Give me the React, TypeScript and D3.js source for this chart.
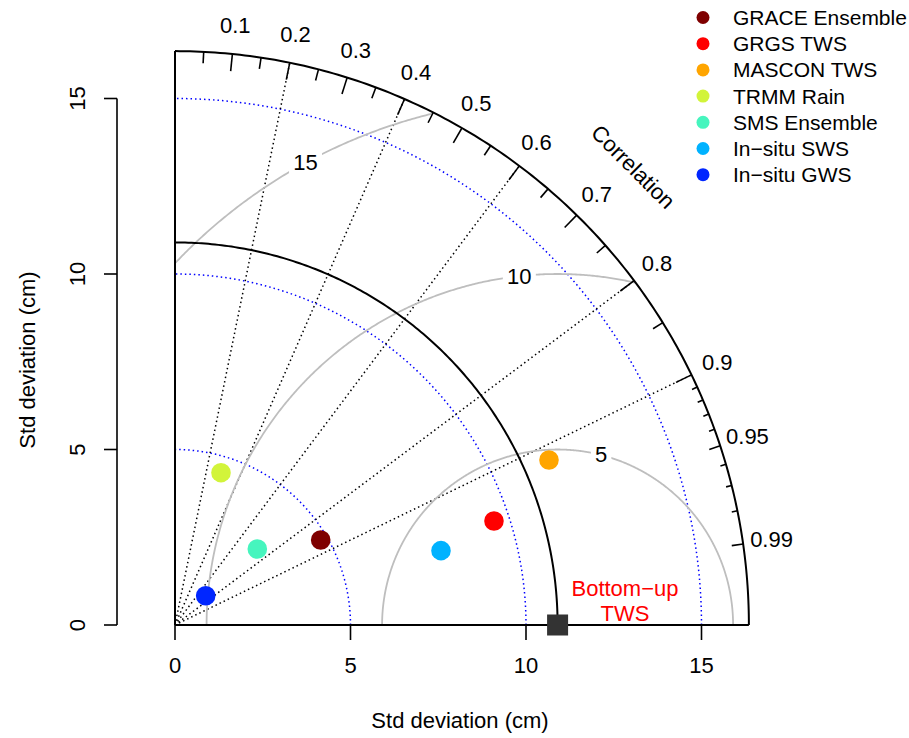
import React from "react";
import * as d3 from "d3";

const models = ["GRACE Ensemble", "GRGS TWS", "MASCON TWS", "TRMM Rain", "SMS Ensemble", "In\u2212situ SWS", "In\u2212situ GWS"];
const colors = ["#7F0000", "#FF0000", "#FFA500", "#D2F43A", "#46F5BE", "#00B2FF", "#0026FF"];
const sdValues = [4.806, 9.559, 11.646, 4.533, 3.192, 7.868, 1.209];
const corValues = [0.8637, 0.9507, 0.9149, 0.289, 0.7347, 0.9631, 0.7235];
const refSd = 10.9;
const refLabel = ["Bottom\u2212up", "TWS"];
const maxSd = 16.35;
const sdTicks = [0, 5, 10, 15];
const sdGrid = [5, 10, 15];
const rmsLevels = [5, 10, 15];
const corLabels = [0.1, 0.2, 0.3, 0.4, 0.5, 0.6, 0.7, 0.8, 0.9, 0.95, 0.99];
const corLines = [0.2, 0.4, 0.6, 0.8, 0.9];
const bigTicks = [0.1, 0.2, 0.3, 0.4, 0.5, 0.6, 0.7, 0.8, 0.9];
const medTicks = [0.05, 0.15, 0.25, 0.35, 0.45, 0.55, 0.65, 0.75, 0.85, 0.95, 0.99];
const smlTicks = [0.91, 0.92, 0.93, 0.94, 0.96, 0.97, 0.98];

const FONT = "'Liberation Sans', Arial, Helvetica, sans-serif";

export default function App() {
  const ox = 175, oy = 625, k = 35.1;
  const xs = d3.scaleLinear().domain([0, maxSd]).range([ox, ox + maxSd * k]);
  const ys = d3.scaleLinear().domain([0, maxSd]).range([oy, oy - maxSd * k]);
  const P = (r: number, a: number): [number, number] => [xs(r * Math.cos(a)), ys(r * Math.sin(a))];
  const line = d3.line<[number, number]>();
  const quarter = (r: number) => {
    const pts: [number, number][] = d3.range(0, 181).map((i) => P(r, (i / 180) * (Math.PI / 2)));
    return line(pts) as string;
  };
  const rmsPath = (g: number) => {
    const pts: [number, number][] = [];
    for (let i = 0; i <= 720; i++) {
      const a = (i / 720) * Math.PI;
      const x = refSd + g * Math.cos(a);
      const y = g * Math.sin(a);
      if (x < 0 || x * x + y * y > maxSd * maxSd) continue;
      pts.push([xs(x), ys(y)]);
    }
    return line(pts) as string;
  };
  const labelAngles = [1.32, 1.68, 2.07];

  const tick = (c: number, f: number, key: string) => {
    const a = Math.acos(c);
    const [x1, y1] = P(maxSd, a);
    const [x2, y2] = P(maxSd * f, a);
    return <line key={key} x1={x1} y1={y1} x2={x2} y2={y2} stroke="#000" strokeWidth={1.6} />;
  };

  const corrPos = P(maxSd * 1.129, Math.PI / 4);

  return (
    <svg width={909} height={738} style={{ display: "block", position: "absolute", left: 0, top: 0, background: "#fff" }} fontFamily={FONT}>
      <rect x={0} y={0} width={909} height={738} fill="#fff" />
      {sdGrid.map((r) => (
        <path key={"g" + r} d={quarter(r)} fill="none" stroke="#0000FF" strokeWidth={1.5} strokeDasharray="1.5 3" />
      ))}
      {corLines.map((c) => {
        const [x2, y2] = P(maxSd, Math.acos(c));
        return <line key={"cl" + c} x1={xs(0)} y1={ys(0)} x2={x2} y2={y2} stroke="#000" strokeWidth={1.5} strokeDasharray="1.5 3" />;
      })}
      {rmsLevels.map((g) => (
        <path key={"rms" + g} d={rmsPath(g)} fill="none" stroke="#BEBEBE" strokeWidth={1.8} />
      ))}
      {rmsLevels.map((g, i) => {
        const a = labelAngles[i];
        const x = xs(refSd + g * Math.cos(a));
        const y = ys(g * Math.sin(a));
        const w = String(g).length * 12.5 + 8;
        return (
          <g key={"rl" + g}>
            <rect x={x - w / 2} y={y - 12} width={w} height={24} fill="#fff" />
            <text x={x} y={y} fontSize={22} textAnchor="middle" dominantBaseline="central" fill="#000">{g}</text>
          </g>
        );
      })}
      <path d={quarter(refSd)} fill="none" stroke="#000" strokeWidth={2} />
      <path d={quarter(maxSd)} fill="none" stroke="#000" strokeWidth={2} />
      <line x1={xs(0)} y1={ys(0)} x2={xs(0)} y2={ys(maxSd)} stroke="#000" strokeWidth={2} />
      <line x1={xs(0)} y1={ys(0)} x2={xs(maxSd)} y2={ys(0)} stroke="#000" strokeWidth={2} />
      {bigTicks.map((c) => tick(c, 0.97, "bt" + c))}
      {medTicks.map((c) => tick(c, 0.98, "mt" + c))}
      {smlTicks.map((c) => tick(c, 0.99, "st" + c))}
      {corLabels.map((c) => {
        const [x, y] = P(maxSd * 1.05, Math.acos(c));
        return (
          <text key={"cla" + c} x={x} y={y} fontSize={22} textAnchor="middle" dominantBaseline="central" fill="#000">{c}</text>
        );
      })}
      <text x={corrPos[0]} y={corrPos[1]} fontSize={22} textAnchor="middle" dominantBaseline="central" transform={`rotate(45 ${corrPos[0]} ${corrPos[1]})`}>Correlation</text>
      {sdTicks.map((t) => (
        <g key={"xt" + t}>
          <line x1={xs(t)} y1={oy} x2={xs(t)} y2={oy + 15} stroke="#000" strokeWidth={1.6} />
          <text x={xs(t)} y={oy + 40} fontSize={22} textAnchor="middle" dominantBaseline="central">{t}</text>
        </g>
      ))}
      <text x={460} y={720} fontSize={22} textAnchor="middle" dominantBaseline="central">Std deviation (cm)</text>
      <line x1={117} y1={ys(0)} x2={117} y2={ys(15)} stroke="#000" strokeWidth={1.6} />
      {sdTicks.map((t) => (
        <g key={"yt" + t}>
          <line x1={104} y1={ys(t)} x2={117} y2={ys(t)} stroke="#000" strokeWidth={1.6} />
          <text x={77} y={ys(t)} fontSize={22} textAnchor="middle" dominantBaseline="central" transform={`rotate(-90 77 ${ys(t)})`}>{t}</text>
        </g>
      ))}
      <text x={27} y={360} fontSize={22} textAnchor="middle" dominantBaseline="central" transform="rotate(-90 27 360)">Std deviation (cm)</text>
      <rect x={xs(refSd) - 10.5} y={ys(0) - 10.5} width={21} height={21} fill="#333333" />
      {refLabel.map((s, i) => (
        <text key={"ref" + i} x={625} y={588 + i * 25} fontSize={22} textAnchor="middle" dominantBaseline="central" fill="#FF0000">{s}</text>
      ))}
      {models.map((m, i) => {
        const [x, y] = P(sdValues[i], Math.acos(corValues[i]));
        return <circle key={"pt" + m} cx={x} cy={y} r={9.8} fill={colors[i]} />;
      })}
      {models.map((m, i) => (
        <g key={"lg" + m}>
          <circle cx={703} cy={17.5 + i * 26.2} r={6.5} fill={colors[i]} />
          <text x={733} y={17.5 + i * 26.2} fontSize={21} dominantBaseline="central" fill="#000">{m}</text>
        </g>
      ))}
    </svg>
  );
}
